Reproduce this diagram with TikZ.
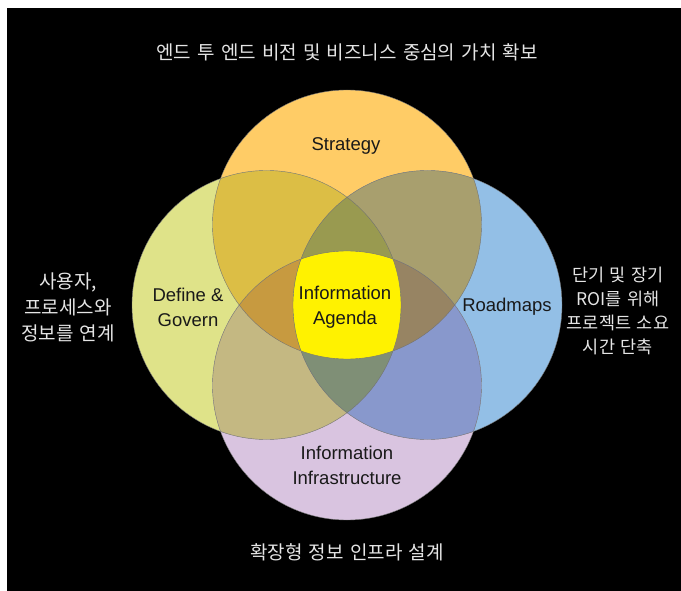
\documentclass[tikz,border=0pt]{standalone}
\usepackage{fontspec}
\setmainfont{Liberation Sans}
\newfontfamily\kofont[WordSpace=1.45]{Noto Sans CJK KR}
\usetikzlibrary{calc}

\definecolor{stratC}{HTML}{FFCC66}
\definecolor{defC}{HTML}{DFE389}
\definecolor{roadC}{HTML}{93BFE6}
\definecolor{infraC}{HTML}{D9C4E0}
\definecolor{sdC}{HTML}{DCBE45}
\definecolor{srC}{HTML}{A89F6E}
\definecolor{diC}{HTML}{C4B882}
\definecolor{riC}{HTML}{8898CC}
\definecolor{sdrC}{HTML}{999A50}
\definecolor{sdiC}{HTML}{C79A40}
\definecolor{sriC}{HTML}{978463}
\definecolor{driC}{HTML}{7F8F76}
\definecolor{agendaC}{HTML}{FFF200}

\begin{document}
\begin{tikzpicture}[x=1pt,y=-1pt,
  ring/.style={draw=black!55,line width=.4pt},
  lbl/.style={align=center,inner sep=0,text=black!90,font=\fontsize{18.5}{25}\selectfont},
  note/.style={align=center,inner sep=0,text=black!10,font=\kofont\fontsize{19}{26}\selectfont}]
\useasboundingbox (0,0) rectangle (681,591);
\fill[white] (0,0) rectangle (681,591);
\fill[black] (7,8) rectangle (681,591);

\def\R{134.5}
\coordinate (s) at (347,224.5);
\coordinate (d) at (266.5,305);
\coordinate (r) at (427.5,305);
\coordinate (i) at (347,385.5);

% circles
\foreach \p/\col in {s/stratC,d/defC,r/roadC,i/infraC}
  \fill[\col] (\p) circle (\R);
% two at a time
\foreach \a/\b/\col in {s/d/sdC,s/r/srC,d/i/diC,r/i/riC} {
  \begin{scope}
    \clip (\a) circle (\R);
    \fill[\col] (\b) circle (\R);
  \end{scope}
}
% three at a time
\foreach \a/\b/\c/\col in {s/d/r/sdrC,s/d/i/sdiC,s/r/i/sriC,d/r/i/driC} {
  \begin{scope}
    \clip (\a) circle (\R);
    \clip (\b) circle (\R);
    \fill[\col] (\c) circle (\R);
  \end{scope}
}
% all four
\begin{scope}
  \clip (s) circle (\R);
  \clip (d) circle (\R);
  \clip (r) circle (\R);
  \fill[agendaC] (i) circle (\R);
\end{scope}
\foreach \p in {s,d,r,i}
  \draw[ring] (\p) circle (\R);

\node[lbl] (strategy) at (346,146) {Strategy};
\node[lbl] (define) at (188,307) {Define \&\\Govern};
\node[lbl] (roadmaps) at (507,307) {Roadmaps};
\node[lbl] (agenda) at (345,307) {Information\\Agenda};
\node[lbl] (infra) at (347,465) {Information\\Infrastructure};

\node[note] (vision) at (347,52) {엔드 투 엔드 비전 및 비즈니스 중심의 가치 확보};
\node[note] (link) at (68,307) {사용자,\\프로세스와\\정보를 연계};
\node[note,font=\kofont\fontsize{17.5}{24}\selectfont] (roi) at (618,311) {단기 및 장기\\ROI를 위해\\프로젝트 소요\\시간 단축};
\node[note] (design) at (347,552) {확장형 정보 인프라 설계};
\end{tikzpicture}
\end{document}
